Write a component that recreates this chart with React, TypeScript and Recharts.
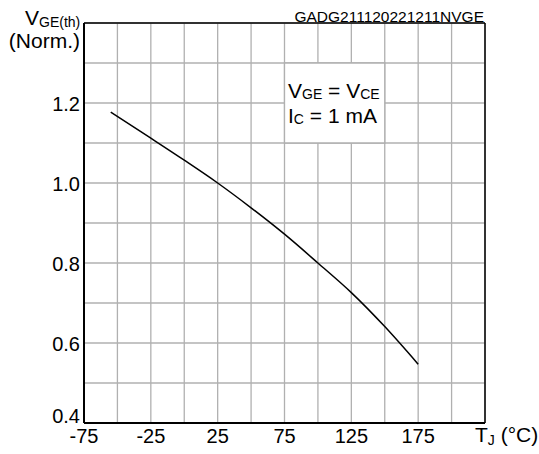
import React from 'react';
import { LineChart, Line, XAxis, YAxis, CartesianGrid, ReferenceArea, ReferenceLine } from 'recharts';

const temperatures = [-55, -25, 0, 25, 50, 75, 100, 125, 150, 175];
const vgeNorm = [1.177, 1.112, 1.057, 1.0, 0.938, 0.872, 0.8, 0.726, 0.641, 0.547];

const xTicks = [-75, -50, -25, 0, 25, 50, 75, 100, 125, 150, 175, 200, 225];
const xLabels = [-75, -25, 25, 75, 125, 175];
const yTicks = [0.4, 0.5, 0.6, 0.7, 0.8, 0.9, 1.0, 1.1, 1.2, 1.3, 1.4];
const yLabels = ['0.4', '0.6', '0.8', '1.0', '1.2'];

const data = temperatures.map((t, i) => ({ t, v: vgeNorm[i] }));

const FONT = "'Liberation Sans', Arial, Helvetica, sans-serif";

const XTick = (props: any) => {
  const { x, y, payload } = props;
  if (!xLabels.includes(payload.value)) return <g />;
  return (
    <text x={x} y={y + 20} textAnchor="middle" fontSize={20} fontFamily={FONT} fill="#000">
      {payload.value}
    </text>
  );
};

const YTick = (props: any) => {
  const { x, y, payload } = props;
  const label = Number(payload.value).toFixed(1);
  if (!yLabels.includes(label)) return <g />;
  const dy = label === '0.4' ? 0 : 7.5;
  return (
    <text x={x} y={y + dy} textAnchor="end" fontSize={20} fontFamily={FONT} fill="#000">
      {label}
    </text>
  );
};

export default function App() {
  return (
    <div style={{ position: 'absolute', left: 0, top: 0, width: 539, height: 454, background: '#fff' }}>
      <LineChart
        width={539}
        height={454}
        data={data}
        margin={{ top: 23, right: 54, bottom: 1, left: 24 }}
      >
        <CartesianGrid stroke="#b0b0b0" strokeWidth={1.3} />
        <XAxis
          type="number"
          dataKey="t"
          domain={[-75, 225]}
          ticks={xTicks}
          interval={0}
          height={30}
          tickLine={false}
          tickSize={0}
          tickMargin={0}
          axisLine={{ stroke: '#000', strokeWidth: 2 }}
          tick={<XTick />}
          allowDataOverflow
        />
        <YAxis
          type="number"
          domain={[0.4, 1.4]}
          ticks={yTicks}
          interval={0}
          width={60}
          tickLine={false}
          tickSize={0}
          tickMargin={4}
          axisLine={{ stroke: '#000', strokeWidth: 2 }}
          tick={<YTick />}
          allowDataOverflow
        />
        <ReferenceArea x1={75} x2={150} y1={1.1} y2={1.3} fill="#fff" fillOpacity={1} stroke="#b0b0b0" strokeWidth={1.3} />
        <ReferenceLine y={1.4} stroke="#000" strokeWidth={1.5} />
        <ReferenceLine x={225} stroke="#000" strokeWidth={1.5} />
        <Line
          type="monotone"
          dataKey="v"
          stroke="#000"
          strokeWidth={1.5}
          dot={false}
          isAnimationActive={false}
        />
      </LineChart>
      <svg
        width={539}
        height={454}
        style={{ position: 'absolute', left: 0, top: 0, pointerEvents: 'none' }}
        fontFamily={FONT}
      >
        <text x={25} y={25} fontSize={21} fill="#000">
          V<tspan fontSize={14} dy={2}>GE(th)</tspan>
        </text>
        <text x={80} y={48} fontSize={21} fill="#000" textAnchor="end">(Norm.)</text>
        <text x={484} y={22} fontSize={15.5} fill="#000" textAnchor="end">GADG211120221211NVGE</text>
        <text x={288} y={98} fontSize={21} fill="#000">
          V<tspan fontSize={14} dy={1}>GE</tspan>
          <tspan dy={-1}> = V</tspan>
          <tspan fontSize={14} dy={1}>CE</tspan>
        </text>
        <text x={288} y={123} fontSize={21} fill="#000">
          I<tspan fontSize={14} dy={1}>C</tspan>
          <tspan dy={-1}> = 1 mA</tspan>
        </text>
        <text x={475} y={442} fontSize={21} fill="#000">
          T<tspan fontSize={14} dy={3}>J</tspan>
          <tspan dy={-3}> (°C)</tspan>
        </text>
      </svg>
    </div>
  );
}
